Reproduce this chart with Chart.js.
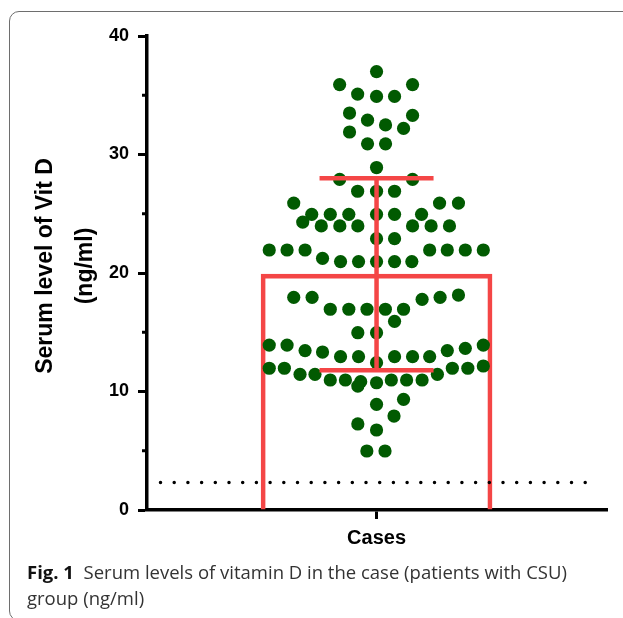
<!DOCTYPE html>
<html><head><meta charset="utf-8">
<script src="https://cdn.jsdelivr.net/npm/chart.js@4"></script>
<style>
html,body{margin:0;padding:0;background:#fff;width:623px;height:618px;overflow:hidden}
#frame{position:absolute;left:9px;top:11px;width:700px;height:608px;border:1.5px solid #6e6e6e;border-radius:10px;}
#wrap{position:absolute;left:0;top:0;width:623px;height:560px}
#cap{position:absolute;left:27px;top:559px;font-family:"Open Sans";font-size:18.5px;line-height:26px;color:#333;white-space:nowrap}
#cap b{color:#111}
</style></head><body>
<div id="frame"></div>
<div id="wrap"><canvas id="c" width="623" height="560"></canvas></div>
<div id="cap"><b>Fig. 1</b>&nbsp;&nbsp;Serum levels of vitamin D in the case (patients with CSU)<br>group (ng/ml)</div>
<script>
// ---- data ----
const categories = ['Cases'];
const categoryPos = [0];
// horizontal scatter offset of each dot (column units) and its serum level (ng/ml)
const dotX = [0,-2.05,2,-1.05,0,1,-1.5,2,-0.5,0.5,1.5,-1.5,-0.5,0.5,0,-2.05,2,-1.05,0,1,
  -4.6,3.5,4.55,-3.6,-2.57,-1.54,0,1,2.5,-4.1,-3.07,-2.04,-1.04,2,3.03,4.05,0,1,
  -5.96,-4.97,-3.97,2.95,3.93,4.93,5.93,-3,-2,-1,0,1,1.96,
  -4.6,-3.58,2.53,3.53,4.55,-2.57,-1.54,-0.53,0.49,1.5,1,-1.04,0,
  -5.96,-4.97,-3.97,-3,-2,-1,0,1,2,2.95,3.93,4.93,5.93,
  -5.96,-5.12,-4.25,-3.42,-2.57,-1.73,-0.88,-1.04,0,0.82,1.67,2.53,3.38,4.21,5.07,5.93,
  0,1.5,0.97,-1.04,0,-0.54,0.47];
const dotY = [37.0,35.9,35.9,35.1,34.9,34.9,33.5,33.3,32.9,32.5,32.2,31.9,30.9,30.9,28.9,27.9,27.9,26.9,26.9,26.9,
  25.9,25.9,25.9,24.95,24.95,24.95,24.95,24.95,24.95,24.3,23.97,23.97,23.97,23.97,23.97,23.97,22.9,22.9,
  21.94,21.94,21.94,21.94,21.94,21.94,21.94,21.24,20.96,20.96,20.96,20.96,20.96,
  17.95,17.95,17.78,17.95,18.14,16.94,16.94,16.94,16.94,16.94,15.92,14.96,14.96,
  13.92,13.92,13.45,13.33,12.94,12.94,12.43,12.94,12.94,12.94,13.45,13.64,13.92,
  11.96,11.96,11.45,11.45,10.97,10.97,10.83,10.46,10.74,10.97,10.97,10.97,11.45,11.96,11.96,12.15,
  8.92,9.34,7.93,7.26,6.75,4.98,4.98];
const meanValue = [19.9];
const sdValue = [8.1];
const refLineValue = 2.33;
const refLineX = [-12.0, 11.65];
const yTicks = [0, 10, 20, 30, 40];
const yMinorTicks = [5, 15, 25, 35];
const yTitle = ['Serum level of Vit D', '(ng/ml)'];

const RED = '#f44646';
const GREEN = '#015a01';
const FONT = '"Liberation Sans", Arial, sans-serif';

const errorBarPlugin = {
  id: 'errorBars',
  afterDatasetsDraw(chart) {
    const {ctx, scales: {x, y}} = chart;
    ctx.save();
    ctx.strokeStyle = RED; ctx.lineWidth = 4.5; ctx.lineCap = 'butt';
    categoryPos.forEach((p, i) => {
      const px = x.getPixelForValue(p);
      const hi = y.getPixelForValue(meanValue[i] + sdValue[i]);
      const lo = y.getPixelForValue(meanValue[i] - sdValue[i]);
      const cap = 57;
      ctx.beginPath();
      ctx.moveTo(px, hi); ctx.lineTo(px, lo);
      ctx.moveTo(px - cap, hi); ctx.lineTo(px + cap, hi);
      ctx.moveTo(px - cap, lo); ctx.lineTo(px + cap, lo);
      ctx.stroke();
    });
    ctx.restore();
  }
};
const minorTickPlugin = {
  id: 'minorTicks',
  afterDraw(chart) {
    const {ctx, scales: {y}, chartArea} = chart;
    ctx.save();
    ctx.strokeStyle = '#000'; ctx.lineWidth = 3;
    yMinorTicks.forEach(v => {
      const py = y.getPixelForValue(v);
      ctx.beginPath(); ctx.moveTo(chartArea.left - 5, py); ctx.lineTo(chartArea.left, py); ctx.stroke();
    });
    ctx.restore();
  }
};
// y-axis title drawn slightly above the axis centre, as in the original
const yTitlePlugin = {
  id: 'yTitle',
  afterDraw(chart) {
    const {ctx, chartArea} = chart;
    const cy = (chartArea.top + chartArea.bottom) / 2 - 7;
    ctx.save();
    ctx.fillStyle = '#000';
    ctx.font = 'bold 23px ' + FONT;
    ctx.textAlign = 'center'; ctx.textBaseline = 'middle';
    const xs = [46, 86];
    yTitle.forEach((t, i) => {
      ctx.save();
      ctx.translate(xs[i], cy);
      ctx.rotate(-Math.PI / 2);
      ctx.fillText(t, 0, 0);
      ctx.restore();
    });
    ctx.restore();
  }
};

new Chart(document.getElementById('c'), {
  type: 'scatter',
  data: {
    datasets: [
      {
        type: 'line', order: 0,
        data: refLineX.map(v => ({x: v, y: refLineValue})),
        borderColor: '#000', borderWidth: 3.5, borderDash: [0, 13.7], borderCapStyle: 'round',
        pointRadius: 0, fill: false
      },
      {
        type: 'scatter', order: 1,
        data: dotX.map((v, i) => ({x: v, y: dotY[i]})),
        backgroundColor: GREEN, borderColor: GREEN, borderWidth: 0, pointRadius: 6.6
      },
      {
        type: 'bar', order: 2,
        data: categoryPos.map((p, i) => ({x: p, y: meanValue[i]})),
        backgroundColor: 'rgba(255,255,255,0)', borderColor: RED, borderWidth: 4,
        barThickness: 231, grouped: false
      }
    ]
  },
  options: {
    responsive: false, animation: false, devicePixelRatio: 1,
    layout: {padding: {top: 36, right: 16, bottom: 5, left: 0}},
    plugins: {legend: {display: false}, tooltip: {enabled: false}},
    scales: {
      x: {
        type: 'linear', min: -12.75, max: 12.8, offset: false,
        afterBuildTicks: s => { s.ticks = categoryPos.map(v => ({value: v})); },
        afterFit: s => { s.height = 45; },
        ticks: {callback: (v, i) => categories[i], color: '#000', padding: 7,
                font: {family: FONT, size: 20, weight: 'bold'}, maxRotation: 0},
        grid: {drawOnChartArea: false, tickLength: 9, tickWidth: 3, color: '#000', offset: false},
        border: {display: true, color: '#000', width: 3.5}
      },
      y: {
        min: 0, max: 40,
        afterBuildTicks: s => { s.ticks = yTicks.map(v => ({value: v})); },
        afterFit: s => { s.width = 147; },
        ticks: {color: '#000', padding: 9, font: {family: FONT, size: 18, weight: 'bold'}},
        grid: {drawOnChartArea: false, tickLength: 9, tickWidth: 3, color: '#000'},
        border: {display: true, color: '#000', width: 3.5},
        title: {display: false}
      }
    }
  },
  plugins: [errorBarPlugin, minorTickPlugin, yTitlePlugin]
});
</script>
</body></html>
